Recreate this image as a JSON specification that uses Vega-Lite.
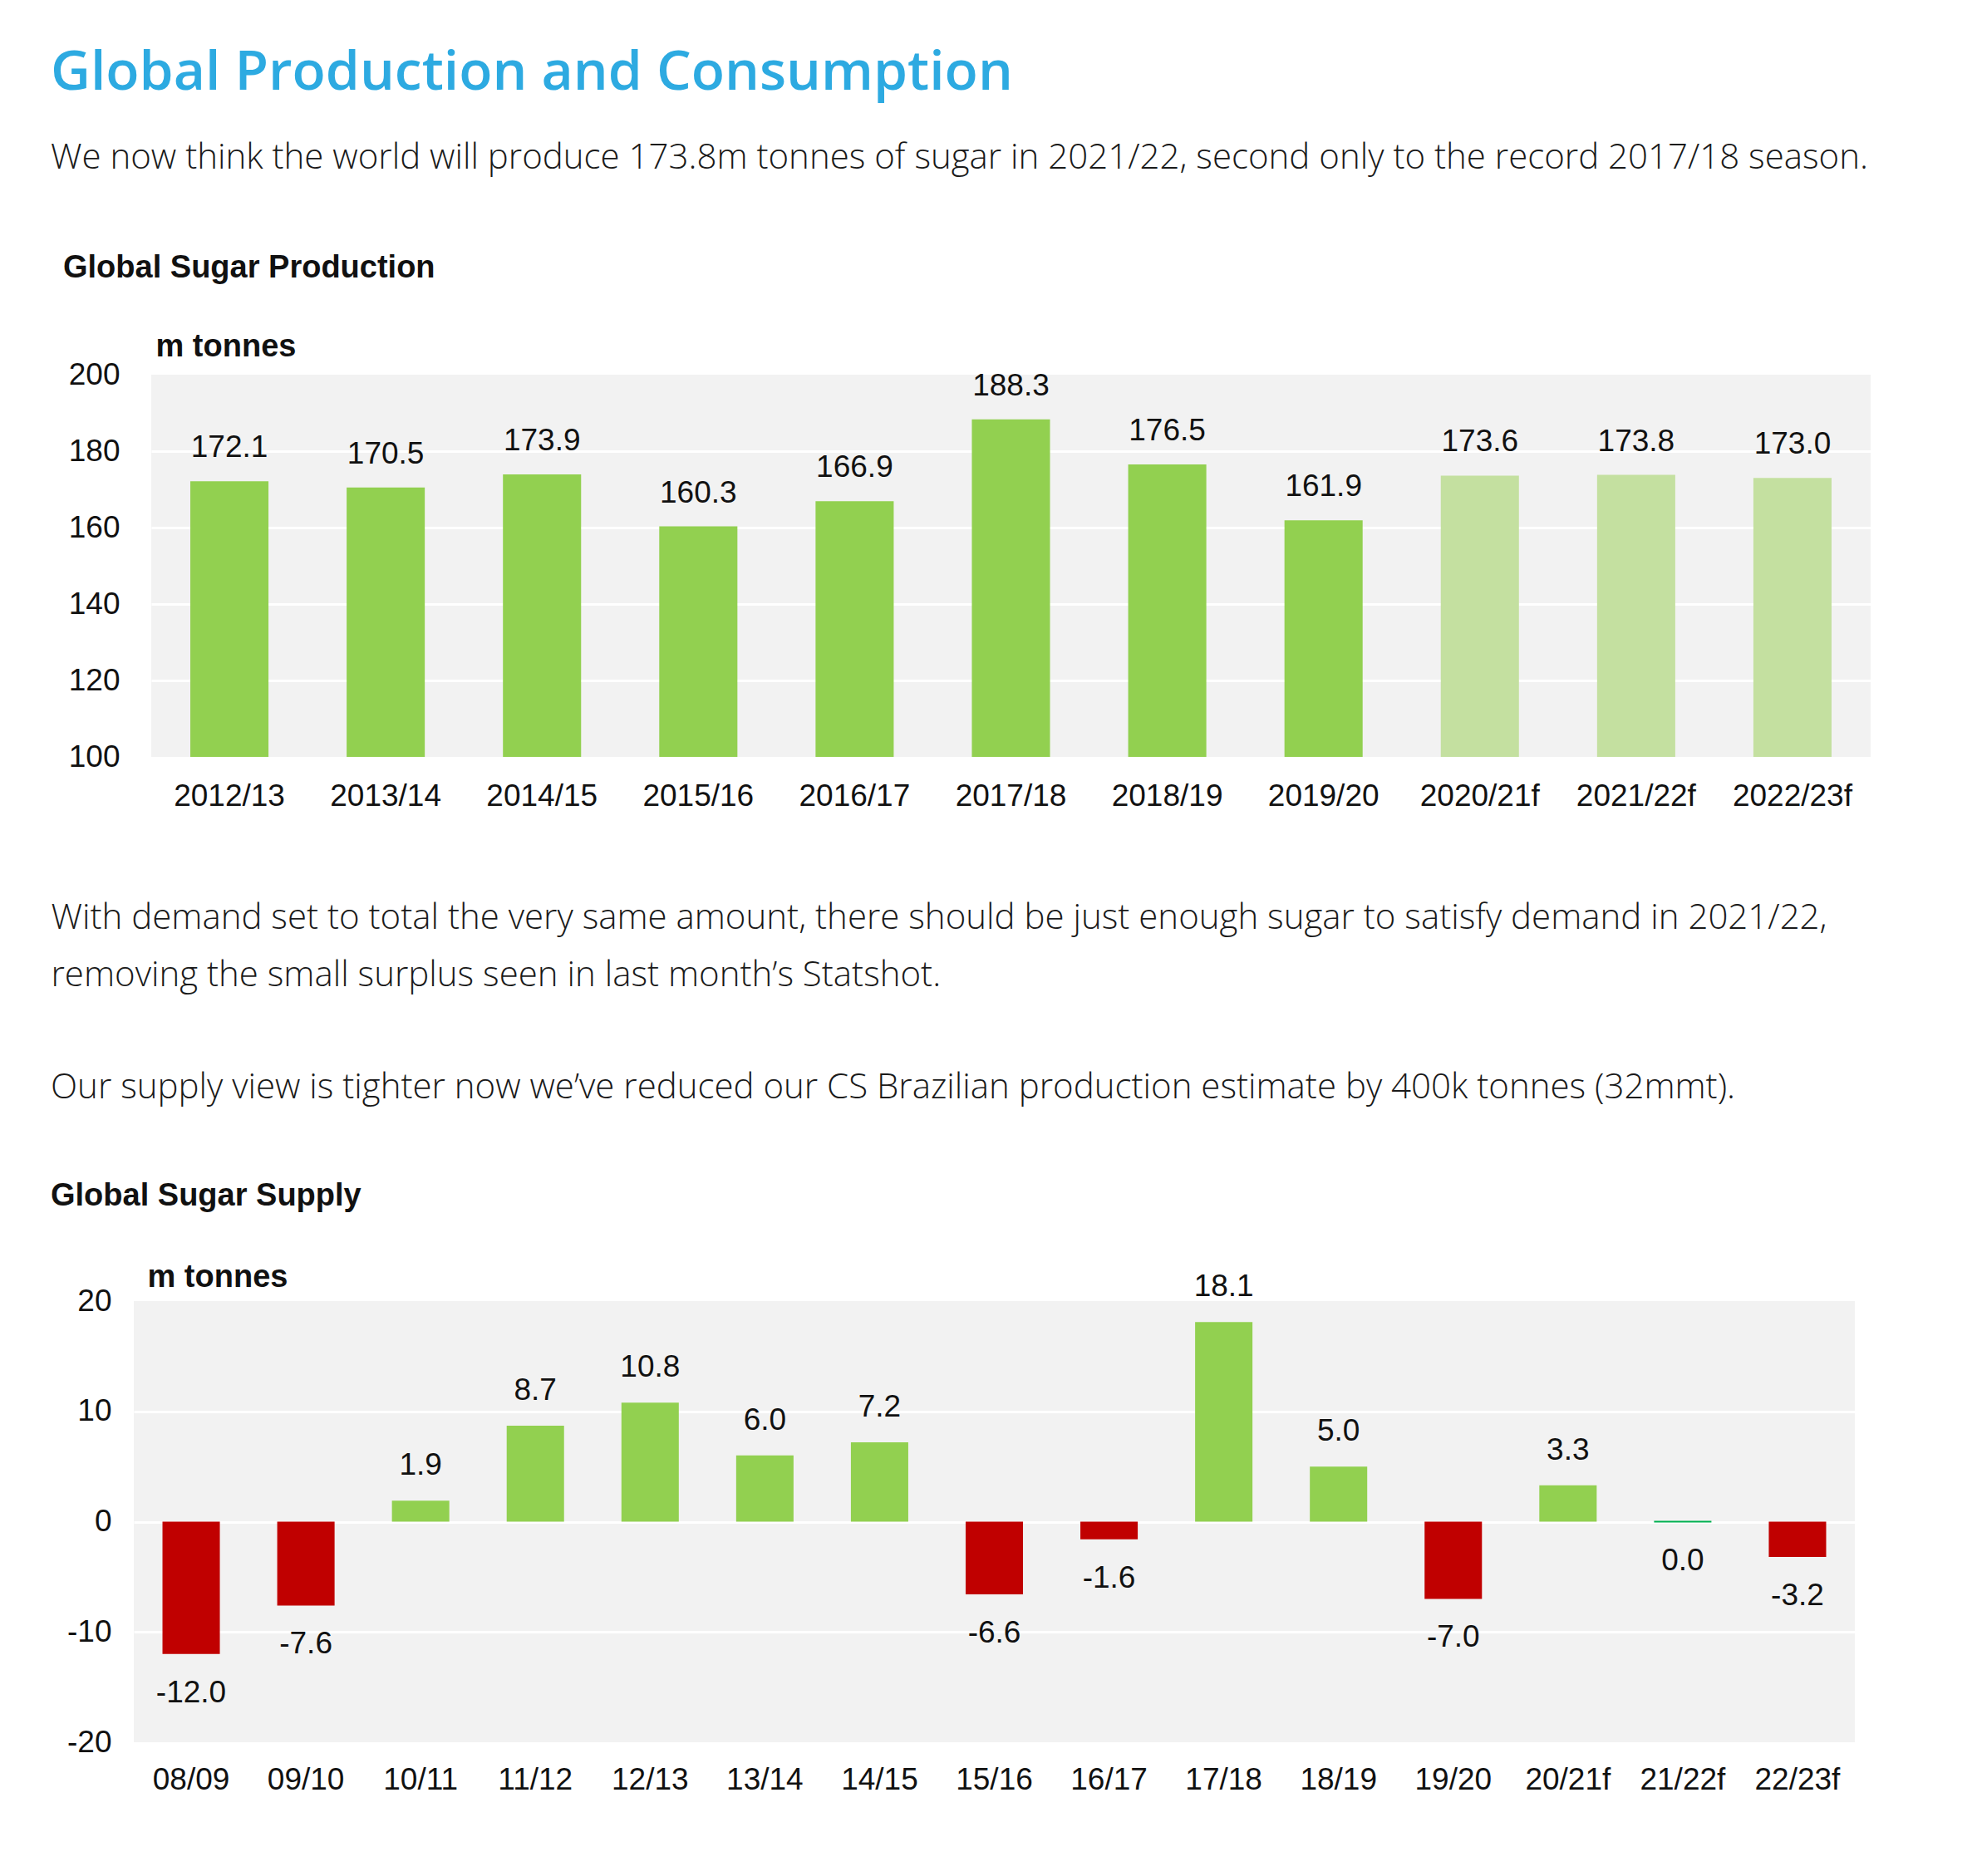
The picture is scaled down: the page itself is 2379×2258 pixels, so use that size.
{
  "$schema": "https://vega.github.io/schema/vega-lite/v6.json",
  "background": "white",
  "padding": {"left": 61, "top": 55, "right": 20, "bottom": 20},
  "title": {
    "text": "Global Production and Consumption",
    "subtitle": "We now think the world will produce 173.8m tonnes of sugar in 2021/22, second only to the record 2017/18 season.",
    "anchor": "start",
    "frame": "bounds",
    "font": "Open Sans",
    "fontSize": 66,
    "fontWeight": 600,
    "color": "#2DAAE1",
    "subtitleFont": "Open Sans",
    "subtitleFontSize": 42,
    "subtitleFontWeight": 300,
    "subtitleColor": "#1a1a1a",
    "subtitlePadding": 48,
    "offset": 92
  },
  "columns": 1,
  "align": "none",
  "spacing": 94,
  "config": {
    "locale": {
      "number": {"decimal": ".", "thousands": ",", "grouping": [3], "currency": ["$", ""], "minus": "-"}
    },
    "view": {"fill": "#F2F2F2", "stroke": null},
    "axis": {
      "labelFont": "Liberation Sans",
      "labelFontSize": 37,
      "labelColor": "#111111",
      "ticks": false,
      "tickSize": 0,
      "domain": false
    }
  },
  "concat": [
    {
      "spacing": -101,
      "hconcat": [
        {
          "width": 1,
          "height": 1,
          "view": {"fill": null, "stroke": null},
          "data": {"values": []},
          "mark": "point"
        },
        {
          "width": 2069,
          "height": 460,
          "title": {
            "text": "Global Sugar Production",
            "anchor": "start",
            "frame": "group",
            "dx": -106,
            "font": "Liberation Sans",
            "fontSize": 38,
            "fontWeight": "bold",
            "color": "#111111",
            "offset": 56
          },
          "data": {
            "values": [
              {"season": "2012/13", "value": 172.1, "kind": "actual"},
              {"season": "2013/14", "value": 170.5, "kind": "actual"},
              {"season": "2014/15", "value": 173.9, "kind": "actual"},
              {"season": "2015/16", "value": 160.3, "kind": "actual"},
              {"season": "2016/17", "value": 166.9, "kind": "actual"},
              {"season": "2017/18", "value": 188.3, "kind": "actual"},
              {"season": "2018/19", "value": 176.5, "kind": "actual"},
              {"season": "2019/20", "value": 161.9, "kind": "actual"},
              {"season": "2020/21f", "value": 173.6, "kind": "forecast"},
              {"season": "2021/22f", "value": 173.8, "kind": "forecast"},
              {"season": "2022/23f", "value": 173.0, "kind": "forecast"}
            ]
          },
          "encoding": {
            "x": {
              "field": "season",
              "type": "nominal",
              "sort": null,
              "scale": {"paddingInner": 0.5, "paddingOuter": 0.25},
              "axis": {
                "labelAngle": 0,
                "labelPadding": 29,
                "grid": false,
                "title": [
                  "With demand set to total the very same amount, there should be just enough sugar to satisfy demand in 2021/22,",
                  "removing the small surplus seen in last month’s Statshot."
                ],
                "titleX": -121,
                "titleY": 206,
                "titleAngle": 0,
                "titleAlign": "left",
                "titleBaseline": "alphabetic",
                "titleFont": "Open Sans",
                "titleFontSize": 42,
                "titleFontWeight": 300,
                "titleColor": "#1a1a1a",
                "titleLineHeight": 69
              }
            },
            "y": {
              "field": "value",
              "type": "quantitative",
              "scale": {"domain": [100, 200], "zero": false, "nice": false},
              "axis": {
                "values": [100, 120, 140, 160, 180, 200],
                "labelPadding": 38,
                "grid": true,
                "gridColor": {"condition": {"test": "datum.value === 100 || datum.value === 200", "value": "transparent"}, "value": "#FFFFFF"},
                "gridWidth": 3,
                "title": "m tonnes",
                "titleAngle": 0,
                "titleAlign": "left",
                "titleBaseline": "alphabetic",
                "titleX": 5,
                "titleY": -23,
                "titleFont": "Liberation Sans",
                "titleFontSize": 38,
                "titleFontWeight": "bold",
                "titleColor": "#111111"
              }
            }
          },
          "layer": [
            {
              "mark": {"type": "bar"},
              "encoding": {
                "y2": {"datum": 100},
                "color": {
                  "field": "kind",
                  "type": "nominal",
                  "scale": {"domain": ["actual", "forecast"], "range": ["#92D050", "#C4E0A0"]},
                  "legend": null
                }
              }
            },
            {
              "mark": {"type": "text", "baseline": "middle", "dy": -40, "font": "Liberation Sans", "fontSize": 37, "color": "#111111"},
              "encoding": {"text": {"field": "value", "type": "quantitative", "format": ".1f"}}
            },
            {
              "data": {"values": [{"note": "© czapp.com"}]},
              "mark": {"type": "text", "align": "left", "baseline": "middle", "dx": -68, "font": "Liberation Sans", "fontSize": 38, "fontWeight": "bold", "color": "#111111"},
              "encoding": {
                "x": {"datum": "2012/13"},
                "y": {"datum": 191.7},
                "text": {"field": "note", "type": "nominal"}
              }
            }
          ]
        }
      ]
    },
    {
      "width": 2071,
      "height": 531,
      "title": {
        "text": "Our supply view is tighter now we’ve reduced our CS Brazilian production estimate by 400k tonnes (32mmt).",
        "subtitle": "Global Sugar Supply",
        "anchor": "start",
        "frame": "group",
        "dx": -100,
        "font": "Open Sans",
        "fontSize": 42,
        "fontWeight": 300,
        "color": "#1a1a1a",
        "subtitleFont": "Liberation Sans",
        "subtitleFontSize": 38,
        "subtitleFontWeight": "bold",
        "subtitleColor": "#111111",
        "subtitlePadding": 90,
        "offset": 58
      },
      "data": {
        "values": [
          {"season": "08/09", "value": -12.0},
          {"season": "09/10", "value": -7.6},
          {"season": "10/11", "value": 1.9},
          {"season": "11/12", "value": 8.7},
          {"season": "12/13", "value": 10.8},
          {"season": "13/14", "value": 6.0},
          {"season": "14/15", "value": 7.2},
          {"season": "15/16", "value": -6.6},
          {"season": "16/17", "value": -1.6},
          {"season": "17/18", "value": 18.1},
          {"season": "18/19", "value": 5.0},
          {"season": "19/20", "value": -7.0},
          {"season": "20/21f", "value": 3.3},
          {"season": "21/22f", "value": 0.0},
          {"season": "22/23f", "value": -3.2}
        ]
      },
      "encoding": {
        "x": {
          "field": "season",
          "type": "nominal",
          "sort": null,
          "scale": {"paddingInner": 0.5, "paddingOuter": 0.25},
          "axis": {"labelAngle": 0, "labelPadding": 27, "grid": false, "title": null}
        },
        "y": {
          "field": "value",
          "type": "quantitative",
          "scale": {"domain": [-20, 20], "nice": false},
          "axis": {
            "values": [-20, -10, 0, 10, 20],
            "labelPadding": 27,
            "grid": true,
            "gridColor": {"condition": {"test": "datum.value === -20 || datum.value === 20", "value": "transparent"}, "value": "#FFFFFF"},
            "gridWidth": 3,
            "title": "m tonnes",
            "titleAngle": 0,
            "titleAlign": "left",
            "titleBaseline": "alphabetic",
            "titleX": 16,
            "titleY": -18,
            "titleFont": "Liberation Sans",
            "titleFontSize": 38,
            "titleFontWeight": "bold",
            "titleColor": "#111111"
          }
        }
      },
      "layer": [
        {
          "mark": {"type": "bar", "strokeWidth": 2},
          "encoding": {
            "color": {
              "condition": [
                {"test": "datum.value > 0", "value": "#92D050"},
                {"test": "datum.value < 0", "value": "#C00000"}
              ],
              "value": "#00B050"
            },
            "stroke": {"condition": {"test": "datum.value === 0", "value": "#00B050"}, "value": "transparent"}
          }
        },
        {
          "transform": [{"filter": "datum.value > 0"}],
          "mark": {"type": "text", "baseline": "middle", "dy": -42, "font": "Liberation Sans", "fontSize": 37, "color": "#111111"},
          "encoding": {"text": {"field": "value", "type": "quantitative", "format": ".1f"}}
        },
        {
          "transform": [{"filter": "datum.value <= 0"}],
          "mark": {"type": "text", "baseline": "middle", "dy": 47, "font": "Liberation Sans", "fontSize": 37, "color": "#111111"},
          "encoding": {"text": {"field": "value", "type": "quantitative", "format": ".1f"}}
        },
        {
          "data": {"values": [{"note": "© czapp.com"}]},
          "mark": {"type": "text", "align": "right", "baseline": "middle", "dx": 38, "font": "Liberation Sans", "fontSize": 38, "fontWeight": "bold", "color": "#111111"},
          "encoding": {
            "x": {"datum": "22/23f"},
            "y": {"datum": 15.3},
            "text": {"field": "note", "type": "nominal"}
          }
        }
      ]
    }
  ]
}
